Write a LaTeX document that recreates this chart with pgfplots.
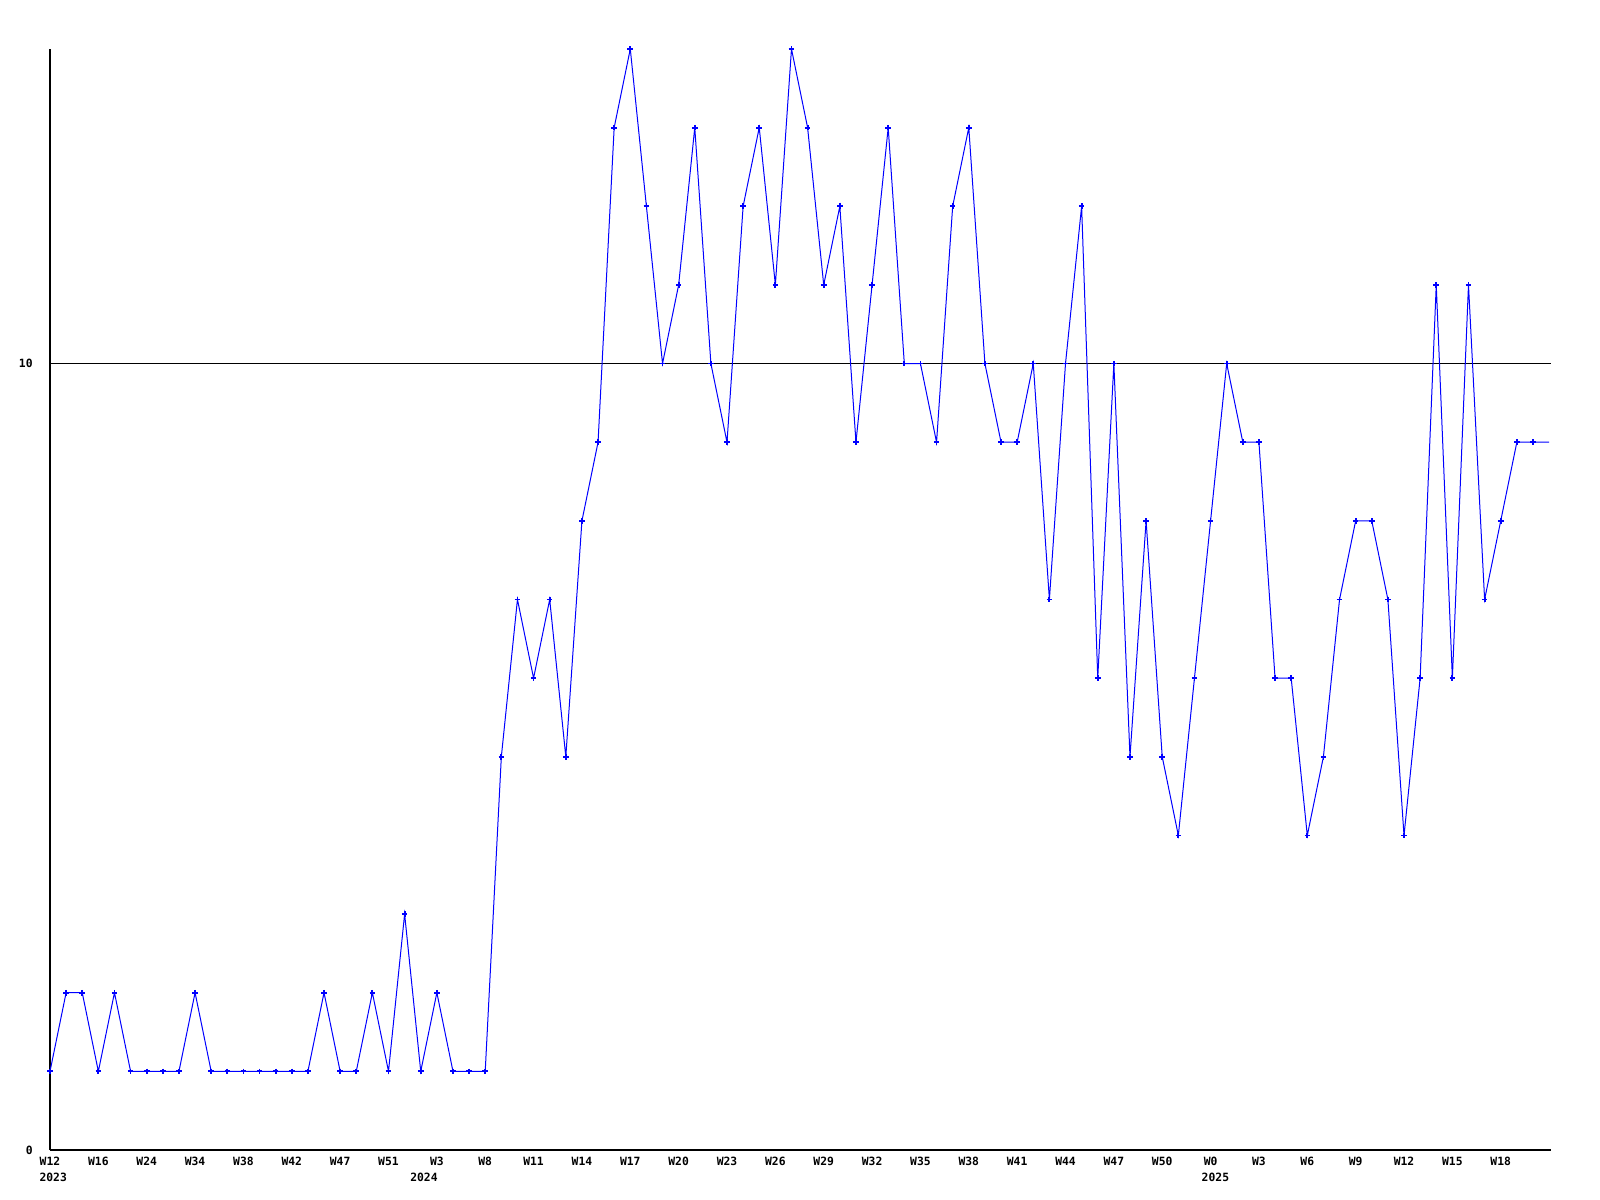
\documentclass[border=0pt]{standalone}
\usepackage{pgfplots}
\pgfplotsset{compat=1.18}
\usepackage{pgfplotstable}
\usepackage{fontspec}
\setmainfont{DejaVu Sans Mono Bold}
\definecolor{lineblue}{RGB}{0,0,255}
\pgfplotstableread{
x y
0 1
1 2
2 2
3 1
4 2
5 1
6 1
7 1
8 1
9 2
10 1
11 1
12 1
13 1
14 1
15 1
16 1
17 2
18 1
19 1
20 2
21 1
22 3
23 1
24 2
25 1
26 1
27 1
28 5
29 7
30 6
31 7
32 5
33 8
34 9
35 13
36 14
37 12
38 10
39 11
40 13
41 10
42 9
43 12
44 13
45 11
46 14
47 13
48 11
49 12
50 9
51 11
52 13
53 10
54 10
55 9
56 12
57 13
58 10
59 9
60 9
61 10
62 7
63 10
64 12
65 6
66 10
67 5
68 8
69 5
70 4
71 6
72 8
73 10
74 9
75 9
76 6
77 6
78 4
79 5
80 7
81 8
82 8
83 7
84 4
85 6
86 11
87 6
88 11
89 7
90 8
91 9
92 9
93 9
}\datatable
\begin{document}
\begin{tikzpicture}
\useasboundingbox (0,0) rectangle (800bp,600bp);
\begin{axis}[
  at={(25bp,25bp)}, anchor=south west,
  scale only axis,
  width=750.5bp, height=550.5bp,
  xmin=0, xmax=93.12, ymin=0, ymax=14,
  axis x line*=bottom, axis y line*=left,
  axis line style={black, line width=0.6bp, -},
  major tick length=0pt,
  ytick={0,10}, yticklabels={0,10},
  ymajorgrids, grid style={black, line width=0.6bp},
  xtick={0,3,...,90},
  xticklabels={W12,W16,W24,W34,W38,W42,W47,W51,W3,W8,W11,W14,W17,W20,W23,W26,W29,W32,W35,W38,W41,W44,W47,W50,W0,W3,W6,W9,W12,W15,W18},
  /pgf/number format/assume math mode=true,
  tick label style={font=\fontsize{5.7}{8}\selectfont},
  xticklabel style={inner sep=0pt, anchor=north, yshift=-3.5bp},
  yticklabel style={inner sep=0pt, anchor=east, xshift=-8.5bp},
  clip mode=individual,
]
\addplot[lineblue, line width=0.5bp] table[x=x,y=y] {\datatable};
\addplot[lineblue, only marks, mark=+, mark size=1.4bp, line width=0.9bp, restrict x to domain=0:92] table[x=x,y=y] {\datatable};
\node[anchor=north, inner sep=0pt, yshift=-11.5bp, font=\fontsize{5.7}{8}\selectfont] at (axis cs:0.2,0) {2023};
\node[anchor=north, inner sep=0pt, yshift=-11.5bp, font=\fontsize{5.7}{8}\selectfont] at (axis cs:23.2,0) {2024};
\node[anchor=north, inner sep=0pt, yshift=-11.5bp, font=\fontsize{5.7}{8}\selectfont] at (axis cs:72.3,0) {2025};
\end{axis}
\end{tikzpicture}
\end{document}
